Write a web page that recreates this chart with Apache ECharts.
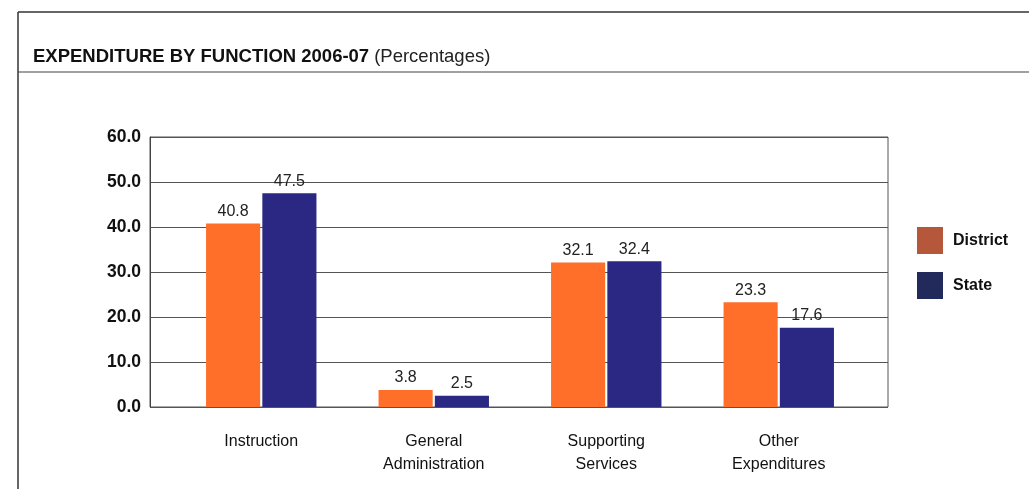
<!DOCTYPE html>
<html><head><meta charset="utf-8">
<script src="https://cdn.jsdelivr.net/npm/echarts@6/dist/echarts.min.js"></script>
<style>html,body{margin:0;padding:0;background:#fff}#c{width:1029px;height:489px}</style>
</head><body><div id="c"></div>
<script>
const categories = ['Instruction', 'General\nAdministration', 'Supporting\nServices', 'Other\nExpenditures'];
const districtValues = [40.8, 3.8, 32.1, 23.3];
const stateValues = [47.5, 2.5, 32.4, 17.6];
const yTicks = [0, 10, 20, 30, 40, 50, 60];

const chart = echarts.init(document.getElementById('c'));
const FONT = '"Liberation Sans", Arial, sans-serif';
chart.setOption({
  animation: false,
  backgroundColor: '#fff',
  title: {
    left: 28, top: 42,
    text: '{b|EXPENDITURE BY FUNCTION 2006-07} {n|(Percentages)}',
    textStyle: { rich: {
      b: { fontFamily: FONT, fontWeight: 'bold', fontSize: 18.5, color: '#111' },
      n: { fontFamily: FONT, fontWeight: 'normal', fontSize: 18.5, color: '#222' }
    } }
  },
  legend: {
    orient: 'vertical', left: 912, top: 222,
    itemWidth: 26, itemHeight: 27, itemGap: 18,
    icon: 'rect',
    textStyle: { fontFamily: FONT, fontWeight: 'bold', fontSize: 16, color: '#111', padding: [8, 0, 0, 5] },
    data: [
      { name: 'District', itemStyle: { color: '#B5573A' } },
      { name: 'State', itemStyle: { color: '#222A5C' } }
    ]
  },
  graphic: [
    { type: 'line', shape: { x1: 18, y1: 12, x2: 1029, y2: 12 }, style: { stroke: '#333', lineWidth: 1.5 } },
    { type: 'line', shape: { x1: 18, y1: 12, x2: 18, y2: 489 }, style: { stroke: '#333', lineWidth: 1.5 } },
    { type: 'line', shape: { x1: 18, y1: 72, x2: 1029, y2: 72 }, style: { stroke: '#444', lineWidth: 1.2 } }
  ],
  grid: [
    { left: 150, top: 137, width: 738, height: 270, show: true, borderColor: '#555', borderWidth: 1 },
    { left: 175, top: 137, width: 690, height: 270 }
  ],
  xAxis: [
    { gridIndex: 0, type: 'category', data: categories, show: false },
    { gridIndex: 1, type: 'category', data: categories,
      axisLine: { show: false }, axisTick: { show: false },
      axisLabel: { margin: 23, fontFamily: FONT, fontSize: 16, color: '#111', lineHeight: 23 } }
  ],
  yAxis: [
    { gridIndex: 0, type: 'value', min: 0, max: 60, interval: 10,
      axisLine: { show: true, lineStyle: { color: '#444' } }, axisTick: { show: false },
      splitLine: { lineStyle: { color: '#555', width: 1 } },
      axisLabel: { margin: 9, fontFamily: FONT, fontWeight: 'bold', fontSize: 17.5, color: '#111',
        formatter: v => yTicks.includes(v) ? v.toFixed(1) : '' } },
    { gridIndex: 1, type: 'value', min: 0, max: 60, interval: 10, show: false, splitLine: { show: false } }
  ],
  series: [
    { name: 'District', type: 'bar', xAxisIndex: 1, yAxisIndex: 1, data: districtValues,
      barCategoryGap: '36%', barGap: '4%',
      itemStyle: { color: '#FF6F2A' },
      label: { show: true, position: 'top', distance: 4, fontFamily: FONT, fontSize: 16, color: '#222',
        formatter: p => p.value.toFixed(1) } },
    { name: 'State', type: 'bar', xAxisIndex: 1, yAxisIndex: 1, data: stateValues,
      barCategoryGap: '36%', barGap: '4%',
      itemStyle: { color: '#2A2882' },
      label: { show: true, position: 'top', distance: 4, fontFamily: FONT, fontSize: 16, color: '#222',
        formatter: p => p.value.toFixed(1) } }
  ]
});
</script></body></html>
